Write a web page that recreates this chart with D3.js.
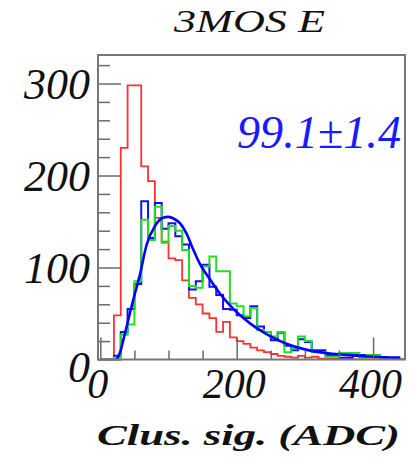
<!DOCTYPE html>
<html>
<head>
<meta charset="utf-8">
<script src="https://cdn.jsdelivr.net/npm/d3@7"></script>
<style>
  html, body { margin: 0; padding: 0; background: #fff; }
  svg { display: block; }
  text { font-family: "Liberation Serif", "DejaVu Serif", serif; }
</style>
</head>
<body>
<svg id="chart" width="409" height="460"></svg>
<script>
// ---------- data ----------
const binEdges = [0,10,20,30,40,50,60,70,80,90,100,110,120,130,140,150,160,170,180,190,200,
  210,220,230,240,250,260,270,280,290,300,310,320,330,340,350,360,370,380,390,400,410,420,430,440];
const binWidth = 10;

const redCounts = [0,0,48,230,298,298,210,194,154,128,110,108,86,67,60,50,45,30,41,24,20,
  17,13,10,8,6,4,3,2,4,2,3,1,1,1,0,0,0,0,0,0,0,0,0,0];

const blueCounts = [0,0,4,30,55,82,172,132,170,142,148,134,125,76,85,103,79,70,55,54,48,
  45,58,36,30,21,29,15,10,22,19,10,10,5,5,2,2,5,5,5,5,2,0,0,0];

const greenCounts = [0,0,2,27,38,85,152,130,166,127,145,140,119,80,78,101,112,96,96,61,58,
  47,56,32,30,25,30,8,12,25,20,8,8,3,3,7,7,7,2,5,5,0,0,0,0];

// fit curve (ADC, counts)
const fitX = [24,30,34,40,48,58,68,80,92,100,108,117,127,136,146,160,175,195,220,245,270,300,330,360,400,440];
const fitY = [0,10,22,40,64,92,125,145,154,155,153,148,136,120,104,88,72,55,39,27,18,11,7,5,3,2];

const xMajorTicks = [0,200,400];
const xMinorTicks = [50,100,150,250,300,350];
const yMajorTicks = [0,100,200,300];
const yMinorTicks = [20,40,60,80,120,140,160,180,220,240,260,280,320];

const titleText = "3MOS E";
const xTitleText = "Clus. sig. (ADC)";
const fitLabel = "99.1\u00B11.4";

// ---------- layout ----------
const L = 98, R = 405, T = 55, B = 359.5;
const svg = d3.select("#chart");

const x = d3.scaleLinear().domain([-3.4, 446.8]).range([L, R]);
const y = d3.scaleLinear().domain([0, 331]).range([B, T]);

svg.append("defs").append("clipPath").attr("id", "clip")
  .append("rect").attr("x", L).attr("y", T).attr("width", R - L).attr("height", B - T);

const plot = svg.append("g").attr("clip-path", "url(#clip)");

function stepPoints(counts) {
  const pts = binEdges.map((e, i) => [e, counts[i]]);
  pts.push([binEdges[binEdges.length - 1] + binWidth, counts[counts.length - 1]]);
  return pts;
}
const stepLine = d3.line().x(d => x(d[0])).y(d => y(d[1])).curve(d3.curveStepAfter);

plot.append("path").datum(stepPoints(redCounts))
  .attr("d", stepLine).attr("fill", "none").attr("stroke", "#ff3030").attr("stroke-width", 1.8);

plot.append("path").datum(stepPoints(blueCounts))
  .attr("d", stepLine).attr("fill", "none").attr("stroke", "#1010ff").attr("stroke-width", 2);

plot.append("path").datum(stepPoints(greenCounts))
  .attr("d", stepLine).attr("fill", "none").attr("stroke", "#20e020").attr("stroke-width", 2);

const fitLine = d3.line().x(d => x(d[0])).y(d => y(d[1])).curve(d3.curveMonotoneX);
plot.append("path").datum(fitX.map((v, i) => [v, fitY[i]]))
  .attr("d", fitLine).attr("fill", "none").attr("stroke", "#0000ff").attr("stroke-width", 2.6);

// ---------- axes ----------
const tickColor = "#6a6a6a";
function styleAxis(g) {
  g.select(".domain").remove();
  g.selectAll(".tick line").attr("stroke", tickColor).attr("stroke-width", 1.5);
}

// y axis
svg.append("g").attr("transform", `translate(${L},0)`)
  .call(d3.axisLeft(y).tickValues(yMinorTicks).tickSize(-12).tickFormat(""))
  .call(styleAxis);
const yAx = svg.append("g").attr("transform", `translate(${L},0)`)
  .call(d3.axisLeft(y).tickValues(yMajorTicks).tickSize(-23).tickPadding(8).tickFormat(d3.format("d")))
  .call(styleAxis);
yAx.selectAll(".tick text")
  .attr("fill", "#111").attr("font-size", 44).attr("font-style", "italic")
  .attr("dy", d => d === 0 ? "0.5em" : "0.33em");

// x axis
svg.append("g").attr("transform", `translate(0,${B})`)
  .call(d3.axisBottom(x).tickValues(xMinorTicks).tickSize(-9).tickFormat(""))
  .call(styleAxis);
const xAx = svg.append("g").attr("transform", `translate(0,${B})`)
  .call(d3.axisBottom(x).tickValues(xMajorTicks).tickSize(-22).tickPadding(9).tickFormat(d3.format("d")))
  .call(styleAxis);
xAx.selectAll(".tick text")
  .attr("fill", "#111").attr("font-size", 42).attr("font-style", "italic")
  .attr("dx", -3);

// frame
svg.append("rect").attr("x", L).attr("y", T).attr("width", R - L).attr("height", B - T)
  .attr("fill", "none").attr("stroke", "#777").attr("stroke-width", 2);

// ---------- texts ----------
svg.append("text").attr("x", 174).attr("y", 32)
  .attr("font-size", 32).attr("font-style", "italic").attr("fill", "#111")
  .attr("textLength", 151).attr("lengthAdjust", "spacingAndGlyphs")
  .text(titleText);

svg.append("text").attr("x", 97).attr("y", 445)
  .attr("font-size", 30).attr("font-style", "italic").attr("font-weight", "bold").attr("fill", "#111")
  .attr("textLength", 303).attr("lengthAdjust", "spacingAndGlyphs")
  .text(xTitleText);

svg.append("text").attr("x", 237).attr("y", 148)
  .attr("font-size", 46).attr("font-style", "italic").attr("fill", "#1a1aff")
  .attr("textLength", 164).attr("lengthAdjust", "spacingAndGlyphs")
  .text(fitLabel);
</script>
</body>
</html>
